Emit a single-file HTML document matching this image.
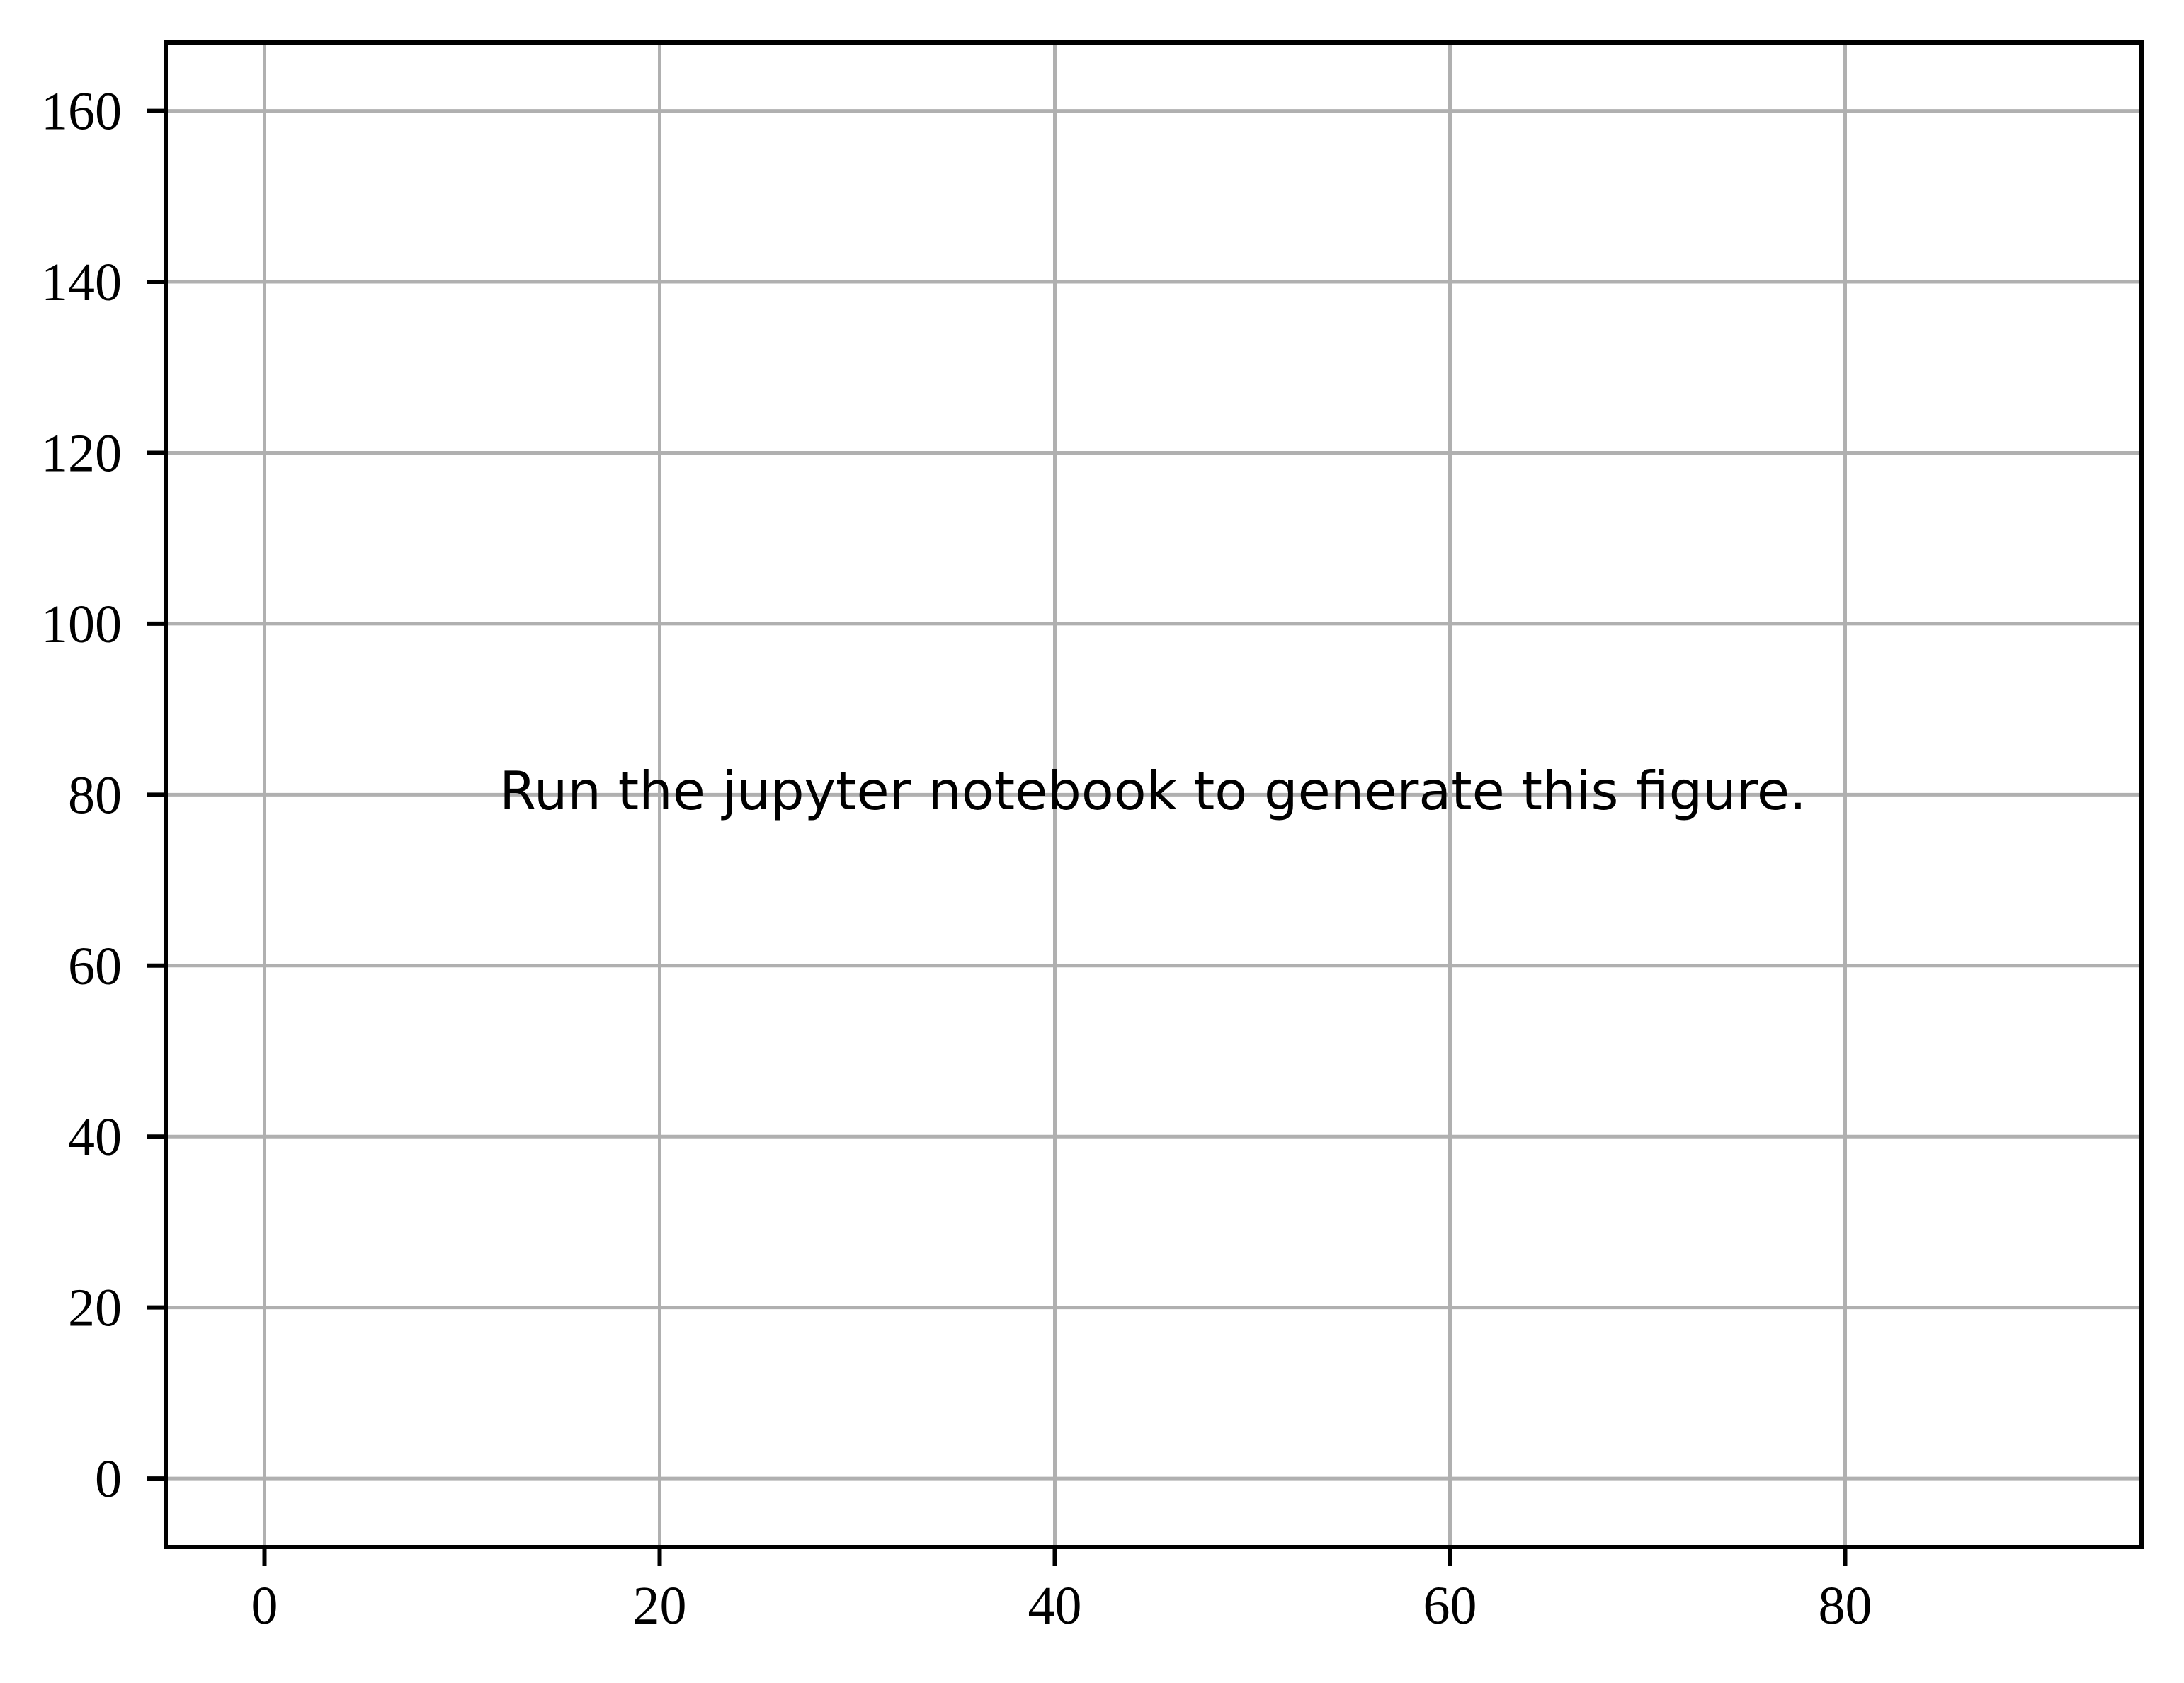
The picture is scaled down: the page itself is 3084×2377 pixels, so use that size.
<!DOCTYPE html>
<html><head><meta charset="utf-8"><style>
html,body{margin:0;padding:0;background:#fff;}
svg{display:block;}
</style></head><body>
<svg id="chart" width="3084" height="2377" viewBox="0 0 3084 2377" xmlns="http://www.w3.org/2000/svg">
<rect x="0" y="0" width="3084" height="2377" fill="#fff"/>
<g id="grid"></g>
<g id="ticks"></g>
<text x="1628" y="1143" text-anchor="middle" font-family="'DejaVu Sans', sans-serif" font-size="75" fill="#000">Run the jupyter notebook to generate this figure.</text>
<rect x="234" y="60" width="2790" height="2125" fill="none" stroke="#000" stroke-width="6"/>
</svg>
<script>
const xTicks = [0, 20, 40, 60, 80];
const yTicks = [0, 20, 40, 60, 80, 100, 120, 140, 160];
const xTickLabels = ["0", "20", "40", "60", "80"];
const yTickLabels = ["0", "20", "40", "60", "80", "100", "120", "140", "160"];
const xDomain = [-5, 95];
const yDomain = [-8.03, 168];

const L = 234, R = 3024, T = 60, B = 2185;
function sx(v){ return L + (v - xDomain[0]) / (xDomain[1] - xDomain[0]) * (R - L); }
function sy(v){ return B - (v - yDomain[0]) / (yDomain[1] - yDomain[0]) * (B - T); }
const NS = "http://www.w3.org/2000/svg";
const grid = document.getElementById('grid');
const ticks = document.getElementById('ticks');
function mk(tag, attrs, parent){
  const e = document.createElementNS(NS, tag);
  for (const k in attrs) e.setAttribute(k, attrs[k]);
  parent.appendChild(e);
  return e;
}
xTicks.forEach((v, i) => {
  const x = sx(v);
  const g = mk('line', {x1:x, x2:x, y1:T, y2:B, stroke:'#b0b0b0', 'stroke-width':5}, grid);
  
  
  const t = mk('line', {x1:x, x2:x, y1:B, y2:B+27, stroke:'#000', 'stroke-width':6}, ticks);
  
  
  const lb = mk('text', {x:x, y:2293, 'text-anchor':'middle', 'font-family':"'Liberation Serif', serif", 'font-size':76, fill:'#000'}, ticks);
  lb.textContent = xTickLabels[i];
  
  
});
yTicks.forEach((v, i) => {
  const y = sy(v);
  const g = mk('line', {x1:L, x2:R, y1:y, y2:y, stroke:'#b0b0b0', 'stroke-width':5}, grid);
  
  
  const t = mk('line', {x1:L-27, x2:L, y1:y, y2:y, stroke:'#000', 'stroke-width':6}, ticks);
  
  
  const lb = mk('text', {x:172, y:y+26, 'text-anchor':'end', 'font-family':"'Liberation Serif', serif", 'font-size':76, fill:'#000'}, ticks);
  lb.textContent = yTickLabels[i];
  
  
});
</script>
</body></html>
